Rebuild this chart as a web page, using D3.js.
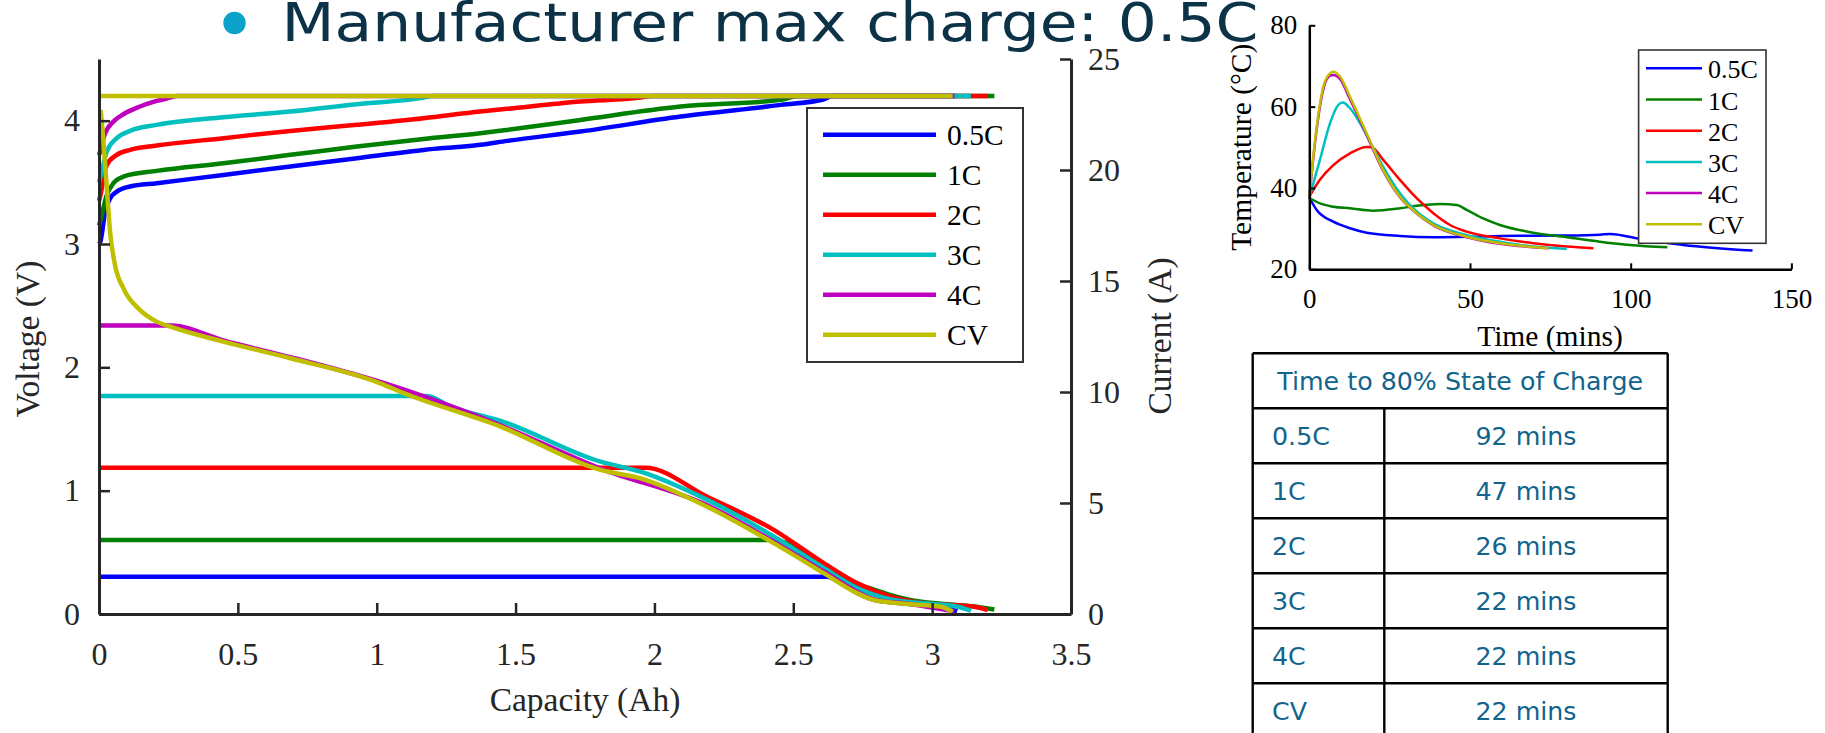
<!DOCTYPE html>
<html lang="en">
<head>
  <meta charset="UTF-8">
  <title>Charge rate comparison</title>
  <script src="https://d3js.org/d3.v7.min.js"></script>
  <style>
    body {
      margin: 0;
      background: #ffffff;
    }
    svg {
      display: block;
    }
    .serif {
      font-family: 'Liberation Serif', 'Times New Roman', serif;
    }
  </style>
</head>
<body>

<svg width="1825" height="733"></svg>

<script>
const seriesNames = ["0.5C", "1C", "2C", "3C", "4C", "CV"];
const seriesColors = ["#0000ff", "#008000", "#ff0000", "#00bfbf", "#bf00bf", "#bfbf00"];

// voltage vs capacity, [Ah, V]
const voltage05C = [[0, 3.0], [0.005, 3.02], [0.022, 3.26], [0.04, 3.37], [0.064, 3.425], [0.112, 3.466], [0.208, 3.493],
  [0.448, 3.56], [0.689, 3.628], [0.929, 3.696], [1.169, 3.763], [1.373, 3.804], [1.47, 3.836], [1.734, 3.912],
  [2.094, 4.033], [2.455, 4.128], [2.611, 4.174], [2.64, 4.2], [3.09, 4.2]];
const voltage1C = [[0, 3.15], [0.004, 3.18], [0.028, 3.398], [0.052, 3.493], [0.088, 3.547], [0.208, 3.593], [0.448, 3.655],
  [0.689, 3.723], [0.929, 3.79], [1.169, 3.852], [1.373, 3.898], [1.47, 3.925], [1.734, 4.006], [2.094, 4.114],
  [2.455, 4.17], [2.52, 4.2], [3.224, 4.2]];
const voltage2C = [[0, 3.35], [0.004, 3.384], [0.028, 3.641], [0.064, 3.723], [0.112, 3.763], [0.208, 3.798], [0.448, 3.858],
  [0.689, 3.917], [0.929, 3.966], [1.169, 4.02], [1.373, 4.074], [1.47, 4.096], [1.734, 4.155], [1.95, 4.187],
  [1.99, 4.2], [3.2, 4.2]];
const voltage3C = [[0, 3.5], [0.004, 3.533], [0.028, 3.75], [0.064, 3.858], [0.112, 3.917], [0.208, 3.966], [0.448, 4.028],
  [0.689, 4.074], [0.929, 4.134], [1.169, 4.187], [1.2, 4.2], [3.14, 4.2]];
const voltage4C = [[0, 3.72], [0.004, 3.75], [0.02, 3.885], [0.052, 3.993], [0.088, 4.052], [0.148, 4.115], [0.208, 4.16],
  [0.256, 4.187], [0.28, 4.2], [3.08, 4.2]];
const voltageCV = [[0, 4.2], [3.074, 4.2]];

// current vs capacity, [Ah, A]
const current05C = [[0, 1.68], [2.623, 1.68], [2.66, 1.5], [2.731, 0.95], [2.791, 0.64], [2.912, 0.46], [3.032, 0.34], [3.09, 0.12]];
const current1C = [[0, 3.33], [2.407, 3.33], [2.5, 3.1], [2.611, 2.22], [2.731, 1.33], [2.791, 1.1], [2.851, 0.85],
  [2.912, 0.66], [3.032, 0.46], [3.152, 0.34], [3.224, 0.2]];
const current2C = [[0, 6.59], [1.968, 6.59], [2.19, 5.28], [2.431, 3.78], [2.611, 2.28], [2.731, 1.38], [2.851, 0.78],
  [2.972, 0.48], [3.152, 0.33], [3.2, 0.18]];
const current3C = [[0, 9.82], [1.181, 9.82], [1.265, 9.34], [1.446, 8.7], [1.806, 6.86], [1.95, 6.41], [2.19, 5.14],
  [2.431, 3.48], [2.611, 2.06], [2.731, 1.16], [2.851, 0.66], [2.972, 0.48], [3.092, 0.33], [3.14, 0.15]];
const current4C = [[0, 12.99], [0.264, 12.99], [0.448, 12.32], [0.689, 11.57], [1.013, 10.45], [1.446, 8.5], [1.806, 6.55],
  [2.19, 4.9], [2.431, 3.25], [2.611, 1.9], [2.791, 0.66], [2.912, 0.46], [3.08, 0.12]];
const currentCV = [[0.006, 22.7], [0.016, 21.3], [0.028, 19.2], [0.04, 17.2], [0.058, 15.7], [0.088, 14.67], [0.148, 13.69],
  [0.208, 13.17], [0.268, 12.9], [0.448, 12.27], [0.689, 11.52], [1.013, 10.39], [1.085, 10.01], [1.446, 8.44],
  [1.806, 6.49], [1.95, 6.11], [2.19, 4.83], [2.431, 3.18], [2.611, 1.83], [2.731, 0.93], [2.791, 0.63],
  [2.912, 0.45], [3.032, 0.33], [3.074, 0.1]];

// temperature vs time, [mins, degC]
const temp05C = [[0, 37.6], [2.3, 34.6], [7.47, 31.7], [12.66, 30.1], [17.86, 29.0], [28.2, 28.2], [38.6, 27.9], [49, 28.0],
  [59.3, 28.2], [69.7, 28.25], [80.1, 28.3], [90.4, 28.5], [93.6, 28.7], [97, 28.4], [101.9, 27.6], [116.3, 26.0], [137.9, 24.6]];
const temp1C = [[0, 37.6], [3.3, 36.2], [7.47, 35.4], [12.66, 35.0], [19.9, 34.4], [28.2, 35.0], [33.4, 35.6], [40.7, 36.05],
  [45.9, 35.8], [49, 34.6], [54.1, 32.5], [59.3, 30.9], [69.7, 29.0], [80.1, 27.9], [90.4, 26.8], [99.8, 25.97], [111.4, 25.4]];
const temp2C = [[0, 37.85], [3.3, 42.0], [7.47, 45.6], [12.66, 48.5], [17.86, 50.1], [19.4, 50.0], [23, 46.9], [28.2, 42.0],
  [33.4, 37.5], [38.6, 33.8], [43.8, 30.9], [49, 29.25], [59.3, 27.6], [69.7, 26.4], [80.1, 25.6], [88.4, 25.2]];
const temp3C = [[0, 37.6], [3.3, 46.9], [6.44, 55.9], [9.0, 60.4], [10.4, 61.0], [12.66, 59.6], [15.8, 55.9], [18.9, 51.4],
  [23, 45.2], [28.2, 38.7], [33.4, 34.2], [38.6, 31.3], [49, 28.4], [59.3, 26.8], [69.7, 25.6], [80.1, 25.0]];
const temp4C = [[0, 37.6], [2.3, 54.5], [4.36, 64.3], [6.44, 67.6], [7.47, 67.8], [9.55, 66.8], [12.66, 61.8], [17.86, 53.0],
  [23, 44.2], [28.2, 37.7], [33.4, 33.7], [38.6, 30.8], [49, 27.9], [59.3, 26.3], [74.4, 25.2]];
const tempCV = [[0, 37.85], [2.3, 55.1], [4.36, 64.9], [6.44, 68.2], [7.47, 68.6], [9.55, 67.4], [12.66, 62.4], [17.86, 53.4],
  [23, 44.4], [28.2, 37.85], [33.4, 33.8], [38.6, 30.9], [49, 28.0], [59.3, 26.4], [74.4, 25.2]];

const capacityTicks = [0, 0.5, 1, 1.5, 2, 2.5, 3, 3.5];
const voltageTicks = [0, 1, 2, 3, 4];
const currentTicks = [0, 5, 10, 15, 20, 25];
const timeTicks = [0, 50, 100, 150];
const tempTicks = [20, 40, 60, 80];

const socRates = ["0.5C", "1C", "2C", "3C", "4C", "CV"];
const socTimes = ["92 mins", "47 mins", "26 mins", "22 mins", "22 mins", "22 mins"];

const voltageSeries = [voltage05C, voltage1C, voltage2C, voltage3C, voltage4C, voltageCV];
const currentSeries = [current05C, current1C, current2C, current3C, current4C, currentCV];
const tempSeries = [temp05C, temp1C, temp2C, temp3C, temp4C, tempCV];

const svg = d3.select("svg");
const axisColor = "#262626";

// ---------- main chart: voltage / current vs capacity ----------
const x = d3.scaleLinear().domain([0, 3.5]).range([99, 1071]);
const yV = d3.scaleLinear().domain([0, 4.5]).range([614, 59]);
const yA = d3.scaleLinear().domain([0, 25]).range([614, 59]);

const main = svg.append("g");

const vLine = d3.line().curve(d3.curveMonotoneX).x(d => x(d[0])).y(d => yV(d[1]));
const aLine = d3.line().curve(d3.curveMonotoneX).x(d => x(d[0])).y(d => yA(d[1]));

main.selectAll(".volt")
  .data(voltageSeries)
  .join("path")
  .attr("class", "volt")
  .attr("fill", "none")
  .attr("stroke", (d, i) => seriesColors[i])
  .attr("stroke-width", 4.5)
  .attr("stroke-linejoin", "round")
  .attr("d", vLine);

main.selectAll(".curr")
  .data(currentSeries)
  .join("path")
  .attr("class", "curr")
  .attr("fill", "none")
  .attr("stroke", (d, i) => seriesColors[i])
  .attr("stroke-width", 4.5)
  .attr("stroke-linejoin", "round")
  .attr("d", aLine);

function styleAxis(g, color, domainWidth, tickWidth, fontSize) {
  g.attr("font-family", "'Liberation Serif', 'Times New Roman', serif")
   .attr("font-size", fontSize);
  g.select(".domain").attr("stroke", color).attr("stroke-width", domainWidth);
  g.selectAll(".tick line").attr("stroke", color).attr("stroke-width", tickWidth);
  g.selectAll(".tick text").attr("fill", color);
}

main.append("g")
  .attr("transform", "translate(0,614)")
  .call(d3.axisBottom(x).tickValues(capacityTicks).tickFormat(d => String(d))
    .tickSize(-11).tickSizeOuter(0).tickPadding(28))
  .call(g => styleAxis(g, axisColor, 3, 2.5, 32));

main.append("g")
  .attr("transform", "translate(99,0)")
  .call(d3.axisLeft(yV).tickValues(voltageTicks).tickFormat(d => String(d))
    .tickSize(-11).tickSizeOuter(0).tickPadding(19))
  .call(g => styleAxis(g, axisColor, 3, 2.5, 32));

main.append("g")
  .attr("transform", "translate(1071,0)")
  .call(d3.axisRight(yA).tickValues(currentTicks).tickFormat(d => String(d))
    .tickSize(-11).tickSizeOuter(0).tickPadding(17))
  .call(g => styleAxis(g, axisColor, 3, 2.5, 32));

main.append("text")
  .attr("class", "serif")
  .attr("x", 585).attr("y", 711)
  .attr("text-anchor", "middle")
  .attr("font-size", 33.5)
  .attr("fill", axisColor)
  .text("Capacity (Ah)");

main.append("text")
  .attr("class", "serif")
  .attr("transform", "translate(39,339) rotate(-90)")
  .attr("text-anchor", "middle")
  .attr("font-size", 33.5)
  .attr("fill", axisColor)
  .text("Voltage (V)");

main.append("text")
  .attr("class", "serif")
  .attr("transform", "translate(1171,336) rotate(-90)")
  .attr("text-anchor", "middle")
  .attr("font-size", 33.5)
  .attr("fill", axisColor)
  .text("Current (A)");

// main legend
const legend = main.append("g");
legend.append("rect")
  .attr("x", 807).attr("y", 108)
  .attr("width", 216).attr("height", 254)
  .attr("fill", "#ffffff")
  .attr("stroke", "#333333")
  .attr("stroke-width", 2);

const legendItems = legend.selectAll(".item")
  .data(seriesNames)
  .join("g")
  .attr("class", "item")
  .attr("transform", (d, i) => `translate(0,${134.7 + i * 40})`);

legendItems.append("line")
  .attr("x1", 823).attr("x2", 936)
  .attr("stroke", (d, i) => seriesColors[i])
  .attr("stroke-width", 4.5);

legendItems.append("text")
  .attr("class", "serif")
  .attr("x", 947).attr("y", 10.3)
  .attr("font-size", 29.5)
  .attr("fill", "#000")
  .text(d => d);

// ---------- temperature chart ----------
const xT = d3.scaleLinear().domain([0, 150]).range([1309.3, 1791.4]);
const yT = d3.scaleLinear().domain([20, 80]).range([269.3, 25.3]);

const temp = svg.append("g");

const tLine = d3.line().curve(d3.curveMonotoneX).x(d => xT(d[0])).y(d => yT(d[1]));

temp.selectAll(".temp")
  .data(tempSeries)
  .join("path")
  .attr("class", "temp")
  .attr("fill", "none")
  .attr("stroke", (d, i) => seriesColors[i])
  .attr("stroke-width", 2.5)
  .attr("stroke-linejoin", "round")
  .attr("d", tLine);

temp.append("g")
  .attr("transform", "translate(0,269.3)")
  .call(d3.axisBottom(xT).tickValues(timeTicks).tickFormat(d => String(d))
    .tickSize(-6).tickSizeOuter(0).tickPadding(19.5))
  .call(g => styleAxis(g, "#000", 2.5, 2, 27));

temp.append("g")
  .attr("transform", "translate(1309.3,0)")
  .call(d3.axisLeft(yT).tickValues(tempTicks).tickFormat(d => String(d))
    .tickSize(-6).tickSizeOuter(0).tickPadding(12))
  .call(g => styleAxis(g, "#000", 2.5, 2, 27));

temp.append("text")
  .attr("class", "serif")
  .attr("x", 1550).attr("y", 346)
  .attr("text-anchor", "middle")
  .attr("font-size", 29.5)
  .attr("fill", "#000")
  .text("Time (mins)");

temp.append("text")
  .attr("class", "serif")
  .attr("transform", "translate(1251,147.3) rotate(-90)")
  .attr("text-anchor", "middle")
  .attr("font-size", 29.5)
  .attr("fill", "#000")
  .text("Temperature (°C)");

const tLegend = temp.append("g");
tLegend.append("rect")
  .attr("x", 1638.6).attr("y", 50)
  .attr("width", 127.4).attr("height", 193.3)
  .attr("fill", "#ffffff")
  .attr("stroke", "#333333")
  .attr("stroke-width", 1.6);

const tItems = tLegend.selectAll(".item")
  .data(seriesNames)
  .join("g")
  .attr("class", "item")
  .attr("transform", (d, i) => `translate(0,${68.3 + i * 31.2})`);

tItems.append("line")
  .attr("x1", 1646).attr("x2", 1702)
  .attr("stroke", (d, i) => seriesColors[i])
  .attr("stroke-width", 2.5);

tItems.append("text")
  .attr("class", "serif")
  .attr("x", 1708).attr("y", 10)
  .attr("font-size", 26)
  .attr("fill", "#000")
  .text(d => d);

// ---------- table ----------
const table = svg.append("g");
const tblLeft = 1252.7, tblRight = 1667.7, tblDivider = 1384.3;
const tblTop = 353.3, rowH = 55;
const tableColor = "#13648b";

const rowY = d3.range(socRates.length + 2).map(i => tblTop + i * rowH);

table.selectAll(".hline")
  .data(rowY)
  .join("line")
  .attr("class", "hline")
  .attr("x1", tblLeft).attr("x2", tblRight)
  .attr("y1", d => d).attr("y2", d => d)
  .attr("stroke", "#000").attr("stroke-width", 2.4);

table.selectAll(".vline")
  .data([[tblLeft, tblTop], [tblRight, tblTop], [tblDivider, tblTop + rowH]])
  .join("line")
  .attr("class", "vline")
  .attr("x1", d => d[0]).attr("x2", d => d[0])
  .attr("y1", d => d[1]).attr("y2", 760)
  .attr("stroke", "#000").attr("stroke-width", 2.4);

table.append("text")
  .attr("x", (tblLeft + tblRight) / 2).attr("y", tblTop + 36.7)
  .attr("text-anchor", "middle")
  .attr("font-family", "'DejaVu Sans', Verdana, sans-serif")
  .attr("font-size", 25.3)
  .attr("fill", tableColor)
  .text("Time to 80% State of Charge");

table.selectAll(".rate")
  .data(socRates)
  .join("text")
  .attr("class", "rate")
  .attr("x", 1272)
  .attr("y", (d, i) => tblTop + (i + 1) * rowH + 36.7)
  .attr("font-family", "'DejaVu Sans', Verdana, sans-serif")
  .attr("font-size", 25.3)
  .attr("fill", tableColor)
  .text(d => d);

table.selectAll(".time")
  .data(socTimes)
  .join("text")
  .attr("class", "time")
  .attr("x", (tblDivider + tblRight) / 2)
  .attr("y", (d, i) => tblTop + (i + 1) * rowH + 36.7)
  .attr("text-anchor", "middle")
  .attr("font-family", "'DejaVu Sans', Verdana, sans-serif")
  .attr("font-size", 25.3)
  .attr("fill", tableColor)
  .text(d => d);

// ---------- slide title ----------
svg.append("circle")
  .attr("cx", 234.5).attr("cy", 23).attr("r", 11.2)
  .attr("fill", "#0aa2c9");

svg.append("text")
  .attr("x", 281.5).attr("y", 40.7)
  .attr("font-family", "'DejaVu Sans', Verdana, sans-serif")
  .attr("font-size", 53)
  .attr("textLength", 977)
  .attr("lengthAdjust", "spacingAndGlyphs")
  .attr("fill", "#0b3247")
  .text("Manufacturer max charge: 0.5C");
</script>

</body>
</html>
